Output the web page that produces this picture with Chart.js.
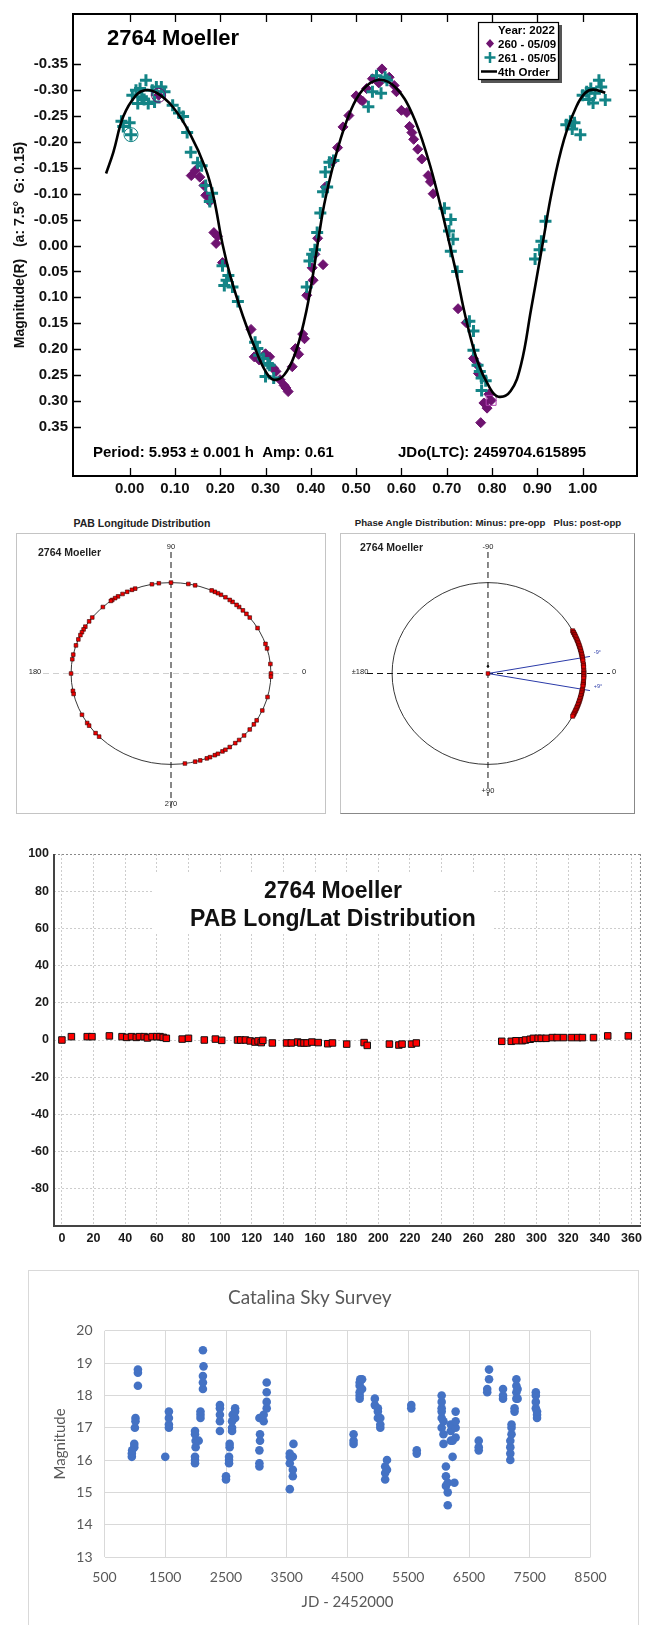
<!DOCTYPE html>
<html>
<head>
<meta charset="utf-8">
<script src="https://cdn.jsdelivr.net/npm/chart.js@4.4.1/dist/chart.umd.min.js"></script>
<style>
  body { margin: 0; background: #fff; }
  #page { position: relative; width: 647px; height: 1625px; overflow: hidden; background: #fff; }
  canvas { position: absolute; display: block; }
  .ptitle { position: absolute; font: bold 10.5px "Liberation Sans", Arial, sans-serif; color: #222; white-space: pre; text-align: center; }
  .box { position: absolute; border: 1px solid #c4c4c4; box-sizing: border-box; }
</style>
</head>
<body>
<div id="page">
  <canvas id="lightcurve" width="647" height="500" style="left:0;top:0"></canvas>

  <div class="ptitle" style="left:16px;width:252px;top:517px">PAB Longitude Distribution</div>
  <div class="box" style="left:16px;top:533px;width:310px;height:281px"></div>
  <canvas id="pabPolar" width="308" height="279" style="left:17px;top:534px"></canvas>

  <div class="ptitle" style="left:339px;width:298px;top:517px;font-size:9.7px">Phase Angle Distribution: Minus: pre-opp   Plus: post-opp</div>
  <div class="box" style="left:340px;top:533px;width:295px;height:281px;border-right-color:#888;border-bottom-color:#888"></div>
  <canvas id="phasePolar" width="293" height="279" style="left:341px;top:534px"></canvas>

  <canvas id="longLat" width="647" height="415" style="left:0;top:840px"></canvas>

  <div class="box" style="left:28px;top:1270px;width:611px;height:370px;border-color:#d9d9d9"></div>
  <canvas id="catalina" width="608" height="354" style="left:29px;top:1271px"></canvas>
</div>

<script>
const FONT = '"Liberation Sans", Arial, sans-serif';
const DEG = Math.PI / 180;

// ---------- lightcurve (phase, magnitude) ----------
const lcXTicks = [0, 0.1, 0.2, 0.3, 0.4, 0.5, 0.6, 0.7, 0.8, 0.9, 1.0];
const lcYTicks = [-0.35, -0.30, -0.25, -0.20, -0.15, -0.10, -0.05, 0, 0.05, 0.10, 0.15, 0.20, 0.25, 0.30, 0.35];

// 4th order fit
const fitCurve = [
  [-0.052, -0.139], [-0.036, -0.18], [-0.014, -0.249], [0.014, -0.29], [0.036, -0.30], [0.059, -0.295],
  [0.095, -0.268], [0.132, -0.218], [0.168, -0.148], [0.186, -0.091], [0.205, -0.003], [0.223, 0.061],
  [0.25, 0.136], [0.277, 0.199], [0.30, 0.243], [0.318, 0.259], [0.341, 0.25], [0.364, 0.212],
  [0.386, 0.143], [0.405, 0.055], [0.418, -0.02], [0.432, -0.09], [0.459, -0.186], [0.486, -0.256],
  [0.514, -0.30], [0.55, -0.32], [0.586, -0.306], [0.623, -0.256], [0.659, -0.167], [0.686, -0.078],
  [0.707, 0], [0.723, 0.061], [0.741, 0.136], [0.768, 0.224], [0.795, 0.275], [0.814, 0.292],
  [0.841, 0.281], [0.864, 0.23], [0.886, 0.124], [0.905, 0.03], [0.914, -0.015], [0.932, -0.104],
  [0.959, -0.205], [0.986, -0.268], [1.005, -0.294], [1.023, -0.301], [1.05, -0.295],
];

// 260 - 05/09 (purple diamonds)
const session260 = [
  [0.064, -0.29], [0.136, -0.135], [0.145, -0.145], [0.155, -0.132], [0.164, -0.116], [0.168, -0.097],
  [0.177, -0.085], [0.186, -0.025], [0.194, -0.018], [0.191, -0.004], [0.205, 0.033], [0.268, 0.162],
  [0.275, 0.215], [0.286, 0.221], [0.30, 0.209], [0.309, 0.215], [0.318, 0.237], [0.323, 0.243],
  [0.332, 0.259], [0.341, 0.27], [0.345, 0.275], [0.35, 0.282], [0.359, 0.234], [0.366, 0.199],
  [0.373, 0.21], [0.382, 0.171], [0.386, 0.18], [0.391, 0.096], [0.405, 0.067], [0.403, 0.043],
  [0.409, 0.017], [0.427, 0.037], [0.415, -0.014], [0.432, -0.113], [0.448, -0.162], [0.459, -0.189],
  [0.471, -0.229], [0.484, -0.251], [0.50, -0.289], [0.509, -0.282], [0.514, -0.279], [0.523, -0.303],
  [0.536, -0.322], [0.55, -0.314], [0.557, -0.341], [0.573, -0.325], [0.584, -0.309], [0.589, -0.297],
  [0.60, -0.261], [0.612, -0.257], [0.618, -0.23], [0.623, -0.218], [0.627, -0.205], [0.636, -0.186],
  [0.645, -0.167], [0.659, -0.135], [0.664, -0.123], [0.67, -0.10], [0.725, 0.122], [0.743, 0.149],
  [0.759, 0.218], [0.768, 0.231], [0.77, 0.247], [0.782, 0.304], [0.789, 0.314], [0.775, 0.342],
  [0.798, 0.299], [0.793, 0.287],
];

// 261 - 05/05 (teal crosses)
const session261 = [
  [-0.018, -0.24], [-0.014, -0.23], [0, -0.237], [0.003, -0.214], [0.006, -0.29], [0.014, -0.30],
  [0.023, -0.303], [0.036, -0.319], [0.027, -0.287], [0.041, -0.274], [0.05, -0.30], [0.059, -0.306],
  [0.07, -0.306], [0.077, -0.297], [0.055, -0.277], [0.018, -0.274], [0.032, -0.282], [0.095, -0.271],
  [0.109, -0.256], [0.118, -0.249], [0.127, -0.218], [0.135, -0.18], [0.15, -0.16], [0.159, -0.154],
  [0.168, -0.116], [0.182, -0.101], [0.177, -0.085], [0.205, 0.039], [0.214, 0.067], [0.209, 0.077],
  [0.218, 0.058], [0.227, 0.08], [0.239, 0.108], [0.277, 0.187], [0.282, 0.199], [0.286, 0.212],
  [0.295, 0.218], [0.305, 0.228], [0.309, 0.231], [0.30, 0.253], [0.318, 0.256], [0.391, 0.08],
  [0.397, 0.03], [0.403, 0.017], [0.409, 0.008], [0.414, -0.025], [0.421, -0.063], [0.427, -0.104],
  [0.432, -0.142], [0.441, -0.161], [0.45, -0.164], [0.436, -0.113], [0.527, -0.268], [0.536, -0.297],
  [0.545, -0.328], [0.555, -0.294], [0.564, -0.325], [0.568, -0.319], [0.695, -0.072], [0.709, -0.05],
  [0.705, -0.028], [0.714, -0.012], [0.709, 0.011], [0.723, 0.05], [0.75, 0.146], [0.759, 0.165],
  [0.759, 0.202], [0.768, 0.231], [0.773, 0.243], [0.777, 0.256], [0.786, 0.261], [0.777, 0.28],
  [0.895, 0.026], [0.905, 0.008], [0.909, -0.008], [0.918, -0.047], [0.964, -0.233], [0.973, -0.24],
  [0.982, -0.237], [0.995, -0.214], [0.977, -0.225], [1.0, -0.29], [1.009, -0.297], [1.018, -0.303],
  [1.027, -0.294], [1.036, -0.319], [1.041, -0.306], [1.05, -0.281], [1.023, -0.275], [1.014, -0.282],
];

const circled261 = [[0.003, -0.214]];
const circled260 = [[0.064, -0.29]];
const boxed260 = [[0.798, 0.299]];

// ---------- PAB longitude / latitude ----------
const pabLong = [
  0, 6, 16, 19, 30, 38, 41, 44, 47, 49, 52, 54, 57, 60, 62, 64, 66, 76, 80, 90, 97, 101, 111, 113,
  116, 119, 122, 124, 126, 127, 133, 142, 145, 149, 151, 153, 155, 158, 162, 168, 171, 180, 191, 193,
  207, 213, 215, 221, 224, 278, 284, 287, 291, 293, 296, 298, 301, 303, 306, 310, 313, 317, 322, 326,
  329, 336, 345, 358,
];
const pabLat = [
  0, 1.8, 1.8, 1.8, 2.2, 1.8, 1.4, 1.8, 1.4, 1.8, 1.8, 1.1, 1.8, 1.8, 1.8, 1.4, 0.9, 0.5, 0.9, 0, 0.5, -0.2, 0, 0,
  0, -0.5, -1.1, -0.5, -1.4, -0.2, -1.6, -1.6, -1.6, -1.1, -1.6, -1.6, -1.6, -1.1, -1.4, -2.0, -1.6, -2.2, -1.4, -2.9,
  -2.2, -2.7, -2.2, -2.2, -1.6, -0.7, -0.7, -0.4, -0.4, 0, 0.4, 0.9, 0.9, 0.9, 0.9, 1.3, 1.3, 1.3, 1.3, 1.3,
  1.3, 1.3, 2.2, 2.2,
];
const lonTicks = [0, 20, 40, 60, 80, 100, 120, 140, 160, 180, 200, 220, 240, 260, 280, 300, 320, 340, 360];
const latTicks = [-100, -80, -60, -40, -20, 0, 20, 40, 60, 80, 100];

// ---------- phase angle distribution (deg, minus = pre-opp) ----------
const phaseAngles = [
  -28, -27, -26.5, -25.5, -25, -24, -23, -22, -21, -20, -19, -18, -17, -16, -15, -14, -13, -12, -11,
  -10, -9, -8, -6, -5, -4, -2, -1, 0, 1, 2, 3, 5, 6, 7, 8, 10, 11, 12, 13, 14, 15, 16, 17, 18, 19, 20,
  21, 22, 23, 24, 25, 26, 27, 28,
];
const phaseRange = [-10, 10];
const phaseRangeLabels = ['-9°', '+9°'];

// ---------- Catalina Sky Survey (JD - 2452000, magnitude) ----------
const cssJD = [
  950, 950, 955, 990, 990, 1000, 1010, 1010, 1050, 1050, 1050,
  1500, 1560, 1560, 1560, 1560,
  1990, 1990, 1990, 2000, 2000, 1990, 1990, 2050, 2080, 2080, 2080, 2120, 2120, 2120, 2130, 2120,
  2400, 2400, 2400, 2400, 2400, 2500, 2500, 2550, 2550, 2550, 2560, 2560, 2600, 2600, 2600, 2610, 2650, 2650, 2650,
  3050, 3050, 3050, 3060, 3060, 3050, 3120, 3120, 3170, 3170, 3170, 3170,
  3550, 3550, 3550, 3550, 3600, 3600, 3600, 3610,
  4600, 4600, 4600, 4700, 4700, 4700, 4700, 4700, 4710, 4740, 4740,
  4950, 4950, 5000, 5000, 5000, 5040, 5040, 5040, 5120, 5120, 5120, 5150, 5150,
  5550, 5550, 5640, 5640,
  6050, 6050, 6050, 6050, 6050, 6050, 6080, 6080, 6080, 6120, 6120, 6120, 6150, 6150, 6150, 6200, 6200, 6200,
  6230, 6230, 6260, 6280, 6280, 6280, 6280,
  6660, 6660, 6660, 6800, 6800, 6830, 6830,
  7060, 7060, 7060, 7180, 7180, 7180, 7180, 7200, 7200, 7200, 7250, 7250, 7280, 7280, 7280, 7280, 7300, 7300,
  7600, 7600, 7600, 7600, 7620, 7620, 7620,
];
const cssMag = [
  16.1, 16.2, 16.3, 16.4, 16.5, 17.0, 17.2, 17.3, 18.3, 18.7, 18.8,
  16.1, 17.0, 17.1, 17.3, 17.5,
  15.9, 16.0, 16.1, 16.4, 16.6, 16.8, 16.9, 16.6, 17.3, 17.4, 17.5, 18.2, 18.4, 18.6, 18.9, 19.4,
  16.9, 17.2, 17.4, 17.6, 17.7, 15.4, 15.5, 15.9, 16.0, 16.1, 16.4, 16.5, 16.9, 17.0, 17.2, 17.4, 17.3, 17.5, 17.6,
  15.8, 15.9, 16.3, 16.6, 16.8, 17.3, 17.2, 17.4, 17.6, 17.8, 18.1, 18.4,
  15.1, 15.9, 16.1, 16.2, 15.5, 15.7, 16.1, 16.5,
  16.5, 16.6, 16.8, 17.9, 18.0, 18.1, 18.3, 18.4, 18.5, 18.2, 18.5,
  17.7, 17.9, 17.3, 17.5, 17.6, 17.0, 17.1, 17.3, 15.4, 15.6, 15.8, 15.7, 16.0,
  17.6, 17.7, 16.2, 16.3,
  17.0, 17.3, 17.5, 17.6, 17.8, 18.0, 16.5, 16.8, 17.2, 15.2, 15.5, 15.8, 14.6, 15.0, 15.3, 16.6, 16.9, 17.1,
  16.1, 16.6, 15.3, 16.7, 17.0, 17.2, 17.5,
  16.3, 16.4, 16.6, 18.1, 18.2, 18.5, 18.8,
  17.9, 18.0, 18.2, 16.0, 16.2, 16.4, 16.6, 16.8, 17.0, 17.1, 17.5, 17.6, 17.9, 18.1, 18.3, 18.5, 17.9, 18.2,
  17.6, 17.8, 18.0, 18.1, 17.3, 17.4, 17.5,
];
const cssXTicks = [500, 1500, 2500, 3500, 4500, 5500, 6500, 7500, 8500];
const cssYTicks = [13, 14, 15, 16, 17, 18, 19, 20];

// ---------------------------------------------------------
Chart.defaults.font.family = FONT;
Chart.defaults.animation = false;
Chart.defaults.responsive = false;
Chart.defaults.plugins.legend.display = false;
Chart.defaults.plugins.tooltip.enabled = false;

const toXY = (pairs) => pairs.map(([x, y]) => ({ x, y }));
const fixedTicks = (values) => (scale) => { scale.ticks = values.map((value) => ({ value })); };

const TEAL = '#138486';
const PURPLE = '#6e1370';

// ---------- 1. lightcurve ----------
const lightcurveDecor = {
  id: 'lightcurveDecor',
  afterDraw(chart) {
    const { ctx, chartArea: a, scales: { x, y } } = chart;
    ctx.save();
    ctx.strokeStyle = '#000';
    ctx.lineWidth = 1.3;
    ctx.beginPath();
    lcXTicks.forEach((v) => {
      const px = Math.round(x.getPixelForValue(v)) + 0.5;
      ctx.moveTo(px, a.top); ctx.lineTo(px, a.top + 8);
      ctx.moveTo(px, a.bottom); ctx.lineTo(px, a.bottom - 8);
    });
    lcYTicks.forEach((v) => {
      const py = Math.round(y.getPixelForValue(v)) + 0.5;
      ctx.moveTo(a.left, py); ctx.lineTo(a.left + 8, py);
      ctx.moveTo(a.right, py); ctx.lineTo(a.right - 8, py);
    });
    ctx.stroke();

    ctx.lineWidth = 2;
    ctx.strokeRect(a.left, a.top, a.right - a.left, a.bottom - a.top);

    ctx.fillStyle = '#000';
    ctx.textBaseline = 'alphabetic';
    ctx.textAlign = 'left';
    ctx.font = `bold 22px ${FONT}`;
    ctx.fillText('2764 Moeller', 107, 45);

    ctx.font = `bold 15px ${FONT}`;
    ctx.fillText('Period: 5.953 ± 0.001 h  Amp: 0.61', 93, 457);
    ctx.fillText('JDo(LTC): 2459704.615895', 398, 457);

    // legend box
    ctx.fillStyle = '#555';
    ctx.fillRect(481, 25, 81, 58);
    ctx.fillStyle = '#fff';
    ctx.fillRect(478, 22, 81, 58);
    ctx.lineWidth = 1.2;
    ctx.strokeStyle = '#000';
    ctx.strokeRect(478.5, 22.5, 80, 57);
    ctx.fillStyle = '#000';
    ctx.font = `bold 11.5px ${FONT}`;
    ctx.fillText('Year: 2022', 498, 34);
    ctx.fillText('260 - 05/09', 498, 48);
    ctx.fillText('261 - 05/05', 498, 62);
    ctx.fillText('4th Order', 498, 76);
    ctx.fillStyle = PURPLE;
    ctx.beginPath();
    ctx.moveTo(490, 39); ctx.lineTo(494, 43.5); ctx.lineTo(490, 48); ctx.lineTo(486, 43.5);
    ctx.closePath(); ctx.fill();
    ctx.strokeStyle = TEAL;
    ctx.lineWidth = 2.5;
    ctx.beginPath();
    ctx.moveTo(490, 52); ctx.lineTo(490, 63); ctx.moveTo(484.5, 57.5); ctx.lineTo(495.5, 57.5);
    ctx.stroke();
    ctx.strokeStyle = '#000';
    ctx.lineWidth = 2.5;
    ctx.beginPath();
    ctx.moveTo(481, 71.5); ctx.lineTo(497, 71.5);
    ctx.stroke();
    ctx.restore();
  },
};

new Chart(document.getElementById('lightcurve'), {
  type: 'scatter',
  data: {
    datasets: [
      { data: toXY(fitCurve), showLine: true, borderColor: '#000', borderWidth: 2.6, pointRadius: 0, tension: 0.4, order: 0 },
      { data: toXY(circled261), pointStyle: 'circle', pointRadius: 7, backgroundColor: 'rgba(0,0,0,0)', borderColor: TEAL, borderWidth: 1, order: 1 },
      { data: toXY(circled260), pointStyle: 'circle', pointRadius: 7, backgroundColor: 'rgba(0,0,0,0)', borderColor: PURPLE, borderWidth: 1, order: 1 },
      { data: toXY(boxed260), pointStyle: 'rect', pointRadius: 7, backgroundColor: 'rgba(0,0,0,0)', borderColor: '#b040b0', borderWidth: 1, order: 1 },
      { data: toXY(session261), pointStyle: 'cross', pointRadius: 6, borderColor: TEAL, backgroundColor: TEAL, borderWidth: 3, order: 2 },
      { data: toXY(session260), pointStyle: 'rectRot', pointRadius: 5, borderColor: PURPLE, backgroundColor: PURPLE, borderWidth: 1, order: 3 },
    ],
  },
  options: {
    layout: { padding: { top: 6, right: 10, left: 0, bottom: 0 } },
    scales: {
      x: {
        type: 'linear', min: -0.125, max: 1.12,
        afterBuildTicks: fixedTicks(lcXTicks),
        afterFit: (s) => { s.height = 24; },
        grid: { display: false, drawTicks: false }, border: { display: false },
        ticks: { padding: 4, color: '#111', font: { size: 15, weight: 'bold' }, maxRotation: 0, callback: (v) => v.toFixed(2) },
      },
      y: {
        reverse: true, min: -0.447, max: 0.445,
        afterBuildTicks: fixedTicks(lcYTicks),
        afterFit: (s) => { s.width = 73; },
        grid: { display: false, drawTicks: false }, border: { display: false },
        ticks: { padding: 5, color: '#111', font: { size: 15, weight: 'bold' }, callback: (v) => v.toFixed(2) },
        title: {
          display: true, text: 'Magnitude(R)   (a: 7.5°  G: 0.15)', color: '#111',
          font: { size: 14, weight: 'bold' }, padding: { top: 12, bottom: 0 },
        },
      },
    },
  },
  plugins: [lightcurveDecor],
});

// ---------- 2. polar plots ----------
function polarDecor(o) {
  return {
    id: 'polarDecor',
    beforeDatasetsDraw(chart) {
      const { ctx, scales: { x, y } } = chart;
      const cx = x.getPixelForValue(0);
      const cy = y.getPixelForValue(0);
      const rx = x.getPixelForValue(1) - cx;
      const ry = cy - y.getPixelForValue(1);
      ctx.save();
      ctx.lineWidth = 1;
      ctx.setLineDash([6, 4]);
      ctx.strokeStyle = o.hColor;
      ctx.beginPath(); ctx.moveTo(o.hFrom, cy); ctx.lineTo(o.hTo, cy); ctx.stroke();
      ctx.strokeStyle = '#111';
      ctx.beginPath(); ctx.moveTo(cx, o.vFrom); ctx.lineTo(cx, o.vTo); ctx.stroke();
      ctx.setLineDash([]);
      ctx.strokeStyle = '#222';
      ctx.lineWidth = 0.9;
      ctx.beginPath(); ctx.ellipse(cx, cy, rx, ry, 0, 0, Math.PI * 2); ctx.stroke();

      ctx.fillStyle = '#222';
      ctx.textAlign = 'center';
      ctx.textBaseline = 'middle';
      ctx.font = `7.5px ${FONT}`;
      ctx.fillText(o.labels[0], cx, o.vFrom - 5);
      ctx.fillText(o.labels[1], cx, o.vTo - 5);
      ctx.fillText(o.labels[2], o.leftLabelX, cy - 2);
      ctx.fillText(o.labels[3], o.rightLabelX, cy - 2);
      ctx.textAlign = 'left';
      ctx.font = `bold 10.5px ${FONT}`;
      ctx.fillText('2764 Moeller', o.nameX, o.nameY);
      ctx.restore();
    },
    afterDatasetsDraw(chart) {
      if (!o.rangeLabels) return;
      const { ctx, scales: { x, y } } = chart;
      ctx.save();
      ctx.fillStyle = '#2a3aa8';
      ctx.font = `5.5px ${FONT}`;
      ctx.textBaseline = 'middle';
      phaseRange.forEach((a, i) => {
        const px = x.getPixelForValue(1.1 * Math.cos(a * DEG));
        const py = y.getPixelForValue(-1.1 * Math.sin(a * DEG));
        ctx.fillText(o.rangeLabels[i], px + 2, py - 4);
      });
      ctx.restore();
    },
  };
}

const redSquare = { pointStyle: 'rect', pointRadius: 2.6, backgroundColor: '#ee0000', borderColor: '#330000', borderWidth: 0.6 };

new Chart(document.getElementById('pabPolar'), {
  type: 'scatter',
  data: {
    datasets: [
      { data: pabLong.map((l) => ({ x: Math.cos(l * DEG), y: Math.sin(l * DEG) })), ...redSquare },
    ],
  },
  options: {
    layout: { padding: 0 },
    scales: {
      x: { display: false, min: -1.495, max: 1.495 },
      y: { display: false, min: -1.484, max: 1.484 },
    },
  },
  plugins: [polarDecor({
    hColor: '#cfcfcf', hFrom: 26, hTo: 280, vFrom: 18, vTo: 275,
    labels: ['90', '270', '180', '0'], leftLabelX: 18, rightLabelX: 287,
    nameX: 21, nameY: 19,
  })],
});

new Chart(document.getElementById('phasePolar'), {
  type: 'scatter',
  data: {
    datasets: [
      {
        data: phaseRange.flatMap((a) => [{ x: 0, y: 0 }, { x: 1.08 * Math.cos(a * DEG), y: -1.08 * Math.sin(a * DEG) }, { x: NaN, y: NaN }]),
        showLine: true, spanGaps: false, borderColor: '#2a3aa8', borderWidth: 1, pointRadius: 0, order: 2,
      },
      { data: phaseAngles.map((a) => ({ x: Math.cos(a * DEG), y: -Math.sin(a * DEG) })), ...redSquare, pointRadius: 2.9, order: 1 },
      { data: [{ x: 0, y: 0 }], ...redSquare, order: 1 },
      { data: [{ x: 0, y: 0.08 }], pointStyle: 'circle', pointRadius: 1.2, backgroundColor: '#111', borderWidth: 0, order: 1 },
    ],
  },
  options: {
    layout: { padding: 0 },
    scales: {
      x: { display: false, min: -1.485, max: 1.475 },
      y: { display: false, min: -1.484, max: 1.484 },
    },
  },
  plugins: [polarDecor({
    hColor: '#111', hFrom: 26, hTo: 269, vFrom: 18, vTo: 262,
    labels: ['-90', '+90', '±180', '0'], leftLabelX: 19, rightLabelX: 273,
    nameX: 19, nameY: 14, rangeLabels: phaseRangeLabels,
  })],
});

// ---------- 3. PAB long/lat ----------
const longLatDecor = {
  id: 'longLatDecor',
  afterDraw(chart) {
    const { ctx, chartArea: a } = chart;
    ctx.save();
    ctx.strokeStyle = '#888';
    ctx.lineWidth = 1;
    ctx.setLineDash([2, 2]);
    ctx.beginPath();
    ctx.moveTo(a.left, a.top + 0.5); ctx.lineTo(a.right, a.top + 0.5);
    ctx.moveTo(a.right - 0.5, a.top); ctx.lineTo(a.right - 0.5, a.bottom);
    ctx.stroke();
    ctx.setLineDash([]);
    ctx.strokeStyle = '#444';
    ctx.lineWidth = 2;
    ctx.beginPath();
    ctx.moveTo(a.left, a.top); ctx.lineTo(a.left, a.bottom); ctx.lineTo(a.right, a.bottom);
    ctx.stroke();
    ctx.restore();
  },
  beforeDatasetsDraw(chart) {
    const { ctx } = chart;
    ctx.save();
    ctx.fillStyle = '#fff';
    ctx.fillRect(154, 32, 338, 61);
    ctx.fillStyle = '#111';
    ctx.textAlign = 'center';
    ctx.textBaseline = 'middle';
    ctx.font = `bold 23px ${FONT}`;
    ctx.fillText('2764 Moeller', 333, 52);
    ctx.fillText('PAB Long/Lat Distribution', 333, 80);
    ctx.restore();
  },
};

new Chart(document.getElementById('longLat'), {
  type: 'scatter',
  data: {
    datasets: [
      {
        data: pabLong.map((lon, i) => ({ x: lon, y: pabLat[i] })),
        pointStyle: 'rect', pointRadius: 4.6, backgroundColor: '#ff0000', borderColor: '#111', borderWidth: 1,
      },
    ],
  },
  options: {
    layout: { padding: { top: 14, right: 6, left: 0, bottom: 0 } },
    scales: {
      x: {
        min: -5, max: 366,
        afterBuildTicks: fixedTicks(lonTicks),
        afterFit: (s) => { s.height = 29; },
        grid: { color: '#cdcdcd', drawTicks: false }, border: { display: false, dash: [2, 2] },
        ticks: { padding: 5, color: '#1a1a1a', font: { size: 12.5, weight: 'bold' }, maxRotation: 0 },
      },
      y: {
        min: -100, max: 100,
        afterBuildTicks: fixedTicks(latTicks),
        afterFit: (s) => { s.width = 54; },
        grid: { color: '#cdcdcd', drawTicks: false }, border: { display: false, dash: [2, 2] },
        ticks: { padding: 5, color: '#1a1a1a', font: { size: 12.5, weight: 'bold' }, callback: (v) => (v === -100 ? '' : v) },
      },
    },
  },
  plugins: [longLatDecor],
});

// ---------- 4. Catalina Sky Survey ----------
const CSS_FONT = 'Lato, "Open Sans", sans-serif';
new Chart(document.getElementById('catalina'), {
  type: 'scatter',
  data: {
    datasets: [
      {
        data: cssJD.map((jd, i) => ({ x: jd, y: cssMag[i] })),
        pointStyle: 'circle', pointRadius: 4.3, backgroundColor: '#4472c4', borderWidth: 0,
      },
    ],
  },
  options: {
    layout: { padding: { top: 0, right: 46.5, left: 0, bottom: 0 } },
    plugins: {
      title: {
        display: true, text: 'Catalina Sky Survey', color: '#595959',
        font: { family: CSS_FONT, size: 19, weight: 'normal' }, padding: { top: 15, bottom: 22 },
      },
    },
    scales: {
      x: {
        min: 500, max: 8500,
        afterBuildTicks: fixedTicks(cssXTicks),
        afterFit: (s) => { s.height = 68; },
        grid: { color: '#d9d9d9', drawTicks: false }, border: { display: false },
        ticks: { padding: 12, color: '#595959', font: { family: CSS_FONT, size: 14 }, maxRotation: 0, callback: (v) => String(v) },
        title: { display: true, text: 'JD - 2452000', color: '#595959', font: { family: CSS_FONT, size: 15 }, padding: { top: 0, bottom: 14 } },
      },
      y: {
        min: 13, max: 20,
        afterBuildTicks: fixedTicks(cssYTicks),
        afterFit: (s) => { s.width = 75.5; },
        grid: { color: '#d9d9d9', drawTicks: false }, border: { display: false },
        ticks: { padding: 12, color: '#595959', font: { family: CSS_FONT, size: 14 }, callback: (v) => String(v) },
        title: { display: true, text: 'Magnitude', color: '#595959', font: { family: CSS_FONT, size: 15 }, padding: { top: 22, bottom: 0 } },
      },
    },
  },
});
</script>
</body>
</html>
